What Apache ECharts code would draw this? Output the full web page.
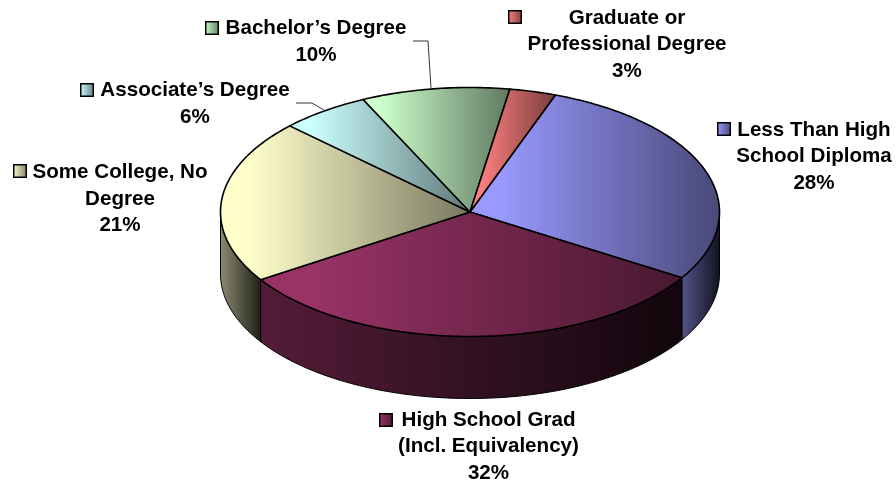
<!DOCTYPE html>
<html>
<head>
<meta charset="utf-8">
<style>html,body{margin:0;padding:0;background:#fff}#c{width:896px;height:485px}</style>
<script src="https://cdn.jsdelivr.net/npm/echarts@6/dist/echarts.min.js"></script>
</head>
<body>
<div id="c"></div>
<script>
// ---- data ----
const categories = ["Less Than High\nSchool Diploma", "High School Grad\n(Incl. Equivalency)", "Some College, No\nDegree", "Associate\u2019s Degree", "Bachelor\u2019s Degree", "Graduate or\nProfessional Degree"];
const shares = [28.3, 32.0, 21.3, 5.8, 9.6, 3.0];
const colours = ["#9999ff", "#993366", "#ffffcc", "#ccffff", "#ccffcc", "#ff8080"];

// ---- layout, kept apart from the data ----
const pie = {cx: 470, cy: 212, rx: 249.5, ry: 124.5, depth: 62, startDeg: 20};
const labelCentres = [[814, 156.5], [488.5, 446.5], [120, 199], [195, 104], [316, 42], [627, 44.5]];
const keyBoxes = [[717, 122], [379, 413], [13, 164], [80, 83], [205, 21], [508, 10]];
const leaders = [null, null, null, [[296, 103], [312, 103], [324, 110]], [[413, 41], [428, 41], [431, 88]], null];

const total = shares.reduce((a, b) => a + b, 0);
function shade(hex, k) {
  const n = parseInt(hex.slice(1), 16);
  return 'rgb(' + [(n >> 16) & 255, (n >> 8) & 255, n & 255].map(v => Math.round(v * k)).join(',') + ')';
}
function grad(hex, a, b, hold) {
  return new echarts.graphic.LinearGradient(0, 0, 1, 0, [
    {offset: 0, color: shade(hex, a)}, {offset: hold || 0, color: shade(hex, a)}, {offset: 1, color: shade(hex, b)}
  ]);
}
function rim(deg, drop) {
  const t = deg * Math.PI / 180;
  return [pie.cx + pie.rx * Math.sin(t), pie.cy - pie.ry * Math.cos(t) + (drop || 0)];
}
function arcPoints(a, b, drop) {
  const n = Math.max(2, Math.ceil((b - a) / 1));
  const out = [];
  for (let i = 0; i <= n; i++) out.push(rim(a + (b - a) * i / n, drop));
  return out;
}

function renderSlice(params, api) {
  const i = params.dataIndex;
  let before = 0;
  for (let k = 0; k < i; k++) before += shares[k];
  const a = pie.startDeg + before / total * 360;
  const b = a + api.value(0) / total * 360;
  const col = colours[i];
  const kids = [];

  // visible wall: the part of the rim on the near half (90 to 270 degrees)
  const wa = Math.max(a, 90), wb = Math.min(b, 270);
  if (wb > wa) {
    const top = arcPoints(wa, wb, 0);
    const bottom = arcPoints(wa, wb, pie.depth).reverse();
    kids.push({
      type: 'polygon', z2: 1,
      shape: {points: top.concat(bottom)},
      style: {fill: grad(col, 0.55, 0.12), stroke: '#000', lineWidth: 1, lineJoin: 'round'}
    });
  }
  // top face
  kids.push({
    type: 'polygon', z2: 2,
    shape: {points: [[pie.cx, pie.cy]].concat(arcPoints(a, b, 0))},
    style: {fill: grad(col, 1, 0.47, 0.12), stroke: '#000', lineWidth: 1.6, lineJoin: 'round'}
  });
  // key square
  kids.push({
    type: 'rect', z2: 3,
    shape: {x: keyBoxes[i][0] + 0.75, y: keyBoxes[i][1] + 0.75, width: 12.5, height: 12.5},
    style: {fill: grad(col, 1, 0.5), stroke: '#000', lineWidth: 1.5}
  });
  // label
  kids.push({
    type: 'text', z2: 3,
    style: {
      x: labelCentres[i][0], y: labelCentres[i][1],
      text: categories[i] + '\n' + Math.round(api.value(0)) + '%',
      align: 'center', verticalAlign: 'middle',
      fontFamily: '"Liberation Sans", Arial, sans-serif', fontWeight: 'bold', fontSize: 20.6,
      lineHeight: 26.5, fill: '#000'
    }
  });
  if (leaders[i]) {
    kids.push({
      type: 'polyline', z2: 3,
      shape: {points: leaders[i]},
      style: {stroke: '#333', lineWidth: 1, fill: null}
    });
  }
  return {type: 'group', children: kids};
}

const chart = echarts.init(document.getElementById('c'), null, {renderer: 'canvas'});
chart.setOption({
  animation: false,
  backgroundColor: '#fff',
  series: [{
    type: 'custom',
    coordinateSystem: 'none',
    silent: true,
    renderItem: renderSlice,
    data: shares.map((v, i) => ({name: categories[i], value: [v]}))
  }]
});
</script>
</body>
</html>
